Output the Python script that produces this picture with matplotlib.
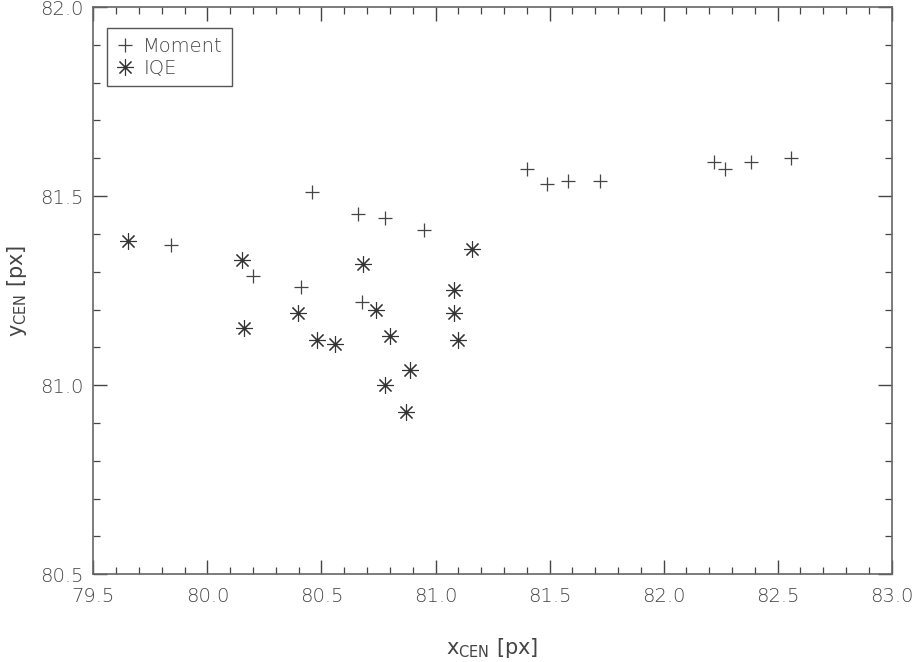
import matplotlib
matplotlib.use("Agg")
import matplotlib.pyplot as plt
from matplotlib.ticker import MultipleLocator, FormatStrFormatter

moment_x = [79.839, 80.200, 80.409, 80.460, 80.659, 80.778, 80.950, 80.679,
            81.401, 81.490, 81.581, 81.720, 82.220, 82.271, 82.382, 82.560]
moment_y = [81.370, 81.290, 81.260, 81.511, 81.452, 81.441, 81.411, 81.220,
            81.571, 81.531, 81.540, 81.540, 81.591, 81.571, 81.591, 81.600]

iqe_x = [79.651, 80.151, 80.161, 80.399, 80.481, 80.560, 80.681, 80.739,
         80.799, 80.779, 80.888, 80.870, 81.080, 81.080, 81.100, 81.162]
iqe_y = [81.381, 81.331, 81.150, 81.190, 81.120, 81.110, 81.321, 81.198,
         81.130, 81.000, 81.040, 80.929, 81.251, 81.190, 81.119, 81.361]

xlim = (79.5, 83.0)
ylim = (80.5, 82.0)

plt.rcParams['font.family'] = ['DejaVu Sans']
plt.rcParams['font.weight'] = 'light'
plt.rcParams['mathtext.fontset'] = 'custom'
plt.rcParams['mathtext.rm'] = 'DejaVu Sans:light'

fig = plt.figure(figsize=(9.16, 6.62), dpi=100)
ax = fig.add_axes([0.1019, 0.1325, 0.8716, 0.8569])

col = '#444444'
txt = '#444444'
ax.plot(moment_x, moment_y, linestyle='none', marker='+', markersize=10,
        markeredgewidth=0.9, color=col, label='Moment')
ax.plot(iqe_x, iqe_y, linestyle='none', marker=(8, 2, 0), markersize=12,
        markeredgewidth=0.8, color='#333333', label='IQE')

ax.set_xlim(*xlim)
ax.set_ylim(*ylim)
ax.xaxis.set_major_locator(MultipleLocator(0.5))
ax.xaxis.set_minor_locator(MultipleLocator(0.1))
ax.yaxis.set_major_locator(MultipleLocator(0.5))
ax.yaxis.set_minor_locator(MultipleLocator(0.1))
ax.xaxis.set_major_formatter(FormatStrFormatter('%.1f'))
ax.yaxis.set_major_formatter(FormatStrFormatter('%.1f'))

ax.tick_params(which='both', direction='in', top=True, right=True,
               color=col, labelcolor=txt, labelsize=14)
ax.tick_params(which='major', length=10, width=1.0, pad=9)
ax.tick_params(axis='y', which='major', pad=7)
ax.tick_params(which='minor', length=5, width=0.9)
for s in ax.spines.values():
    s.set_color('#666666')
    s.set_linewidth(1.2)

ax.set_xlabel(r'$\mathregular{x_{CEN}}$ [px]', fontsize=15, color=txt, labelpad=22)
ax.set_ylabel(r'$\mathregular{y_{CEN}}$ [px]', fontsize=15, color=txt, labelpad=8)

leg = ax.legend(loc='upper left', bbox_to_anchor=(0.0175, 0.963), borderaxespad=0,
                fancybox=False, framealpha=1, edgecolor='#555555', fontsize=14,
                handlelength=0.9, handletextpad=0.5, borderpad=0.45,
                labelspacing=0.15, labelcolor=txt)
leg.get_frame().set_linewidth(1.0)

fig.savefig('out.png', dpi=100)
